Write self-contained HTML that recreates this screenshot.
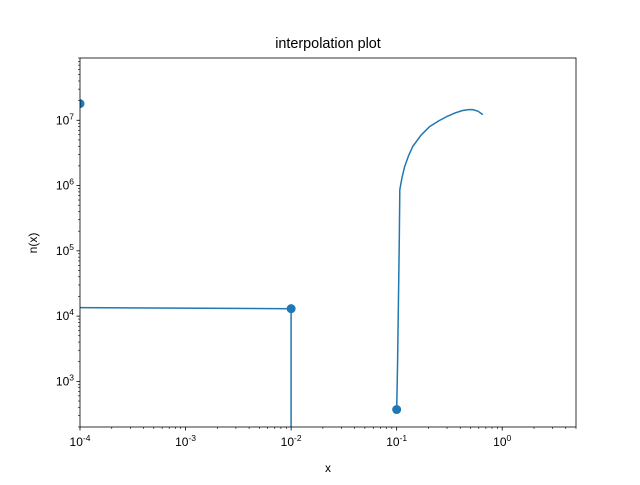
<!DOCTYPE html>
<html><head><meta charset="utf-8"><style>body{margin:0;background:#fff}svg text{font-family:"Liberation Sans","DejaVu Sans",sans-serif;fill:#000}</style></head>
<body>
<svg id="c" width="640" height="480"></svg>
<script>
const lineX=[1e-4,0.01,0.01,null,0.1,0.102,0.104,0.106,0.107,0.112,0.119,0.13,0.142,0.17,0.205,0.25,0.298,0.36,0.422,0.48,0.525,0.59,0.655];
const lineY=[1.35e4,1.3e4,100,null,370,2000,2e4,1.5e5,8.6e5,1.3e6,1.94e6,2.9e6,3.96e6,5.9e6,8.0e6,9.8e6,1.14e7,1.3e7,1.41e7,1.46e7,1.46e7,1.38e7,1.22e7];
const ptX=[1e-4,0.01,0.1];
const ptY=[1.8e7,1.3e4,370];
const xTicks=[-4,-3,-2,-1,0];
const yTicks=[3,4,5,6,7];
const L=80,R=576,T=58,B=427,X0=-4,X1=Math.log10(5),Y0=Math.log10(200),Y1=Math.log10(9e7);
const sx=v=>L+(Math.log10(v)-X0)/(X1-X0)*(R-L);
const sy=v=>B-(Math.log10(v)-Y0)/(Y1-Y0)*(B-T);
const svg=document.getElementById('c');const NS='http://www.w3.org/2000/svg';
function mk(t,a,p){const e=document.createElementNS(NS,t);for(const k in a)e.setAttribute(k,a[k]);(p||svg).appendChild(e);return e;}
const defs=mk('defs',{});const cp=mk('clipPath',{id:'clip'},defs);mk('rect',{x:L,y:T,width:R-L,height:B-T},cp);
let d='',pen=false;
for(let i=0;i<lineX.length;i++){if(lineX[i]===null){pen=false;continue;}d+=(pen?'L':'M')+sx(lineX[i]).toFixed(1)+' '+sy(lineY[i]).toFixed(1);pen=true;}
const ln=mk('path',{d:d,fill:'none',stroke:'#1f77b4','stroke-width':1.5,'stroke-linejoin':'round','clip-path':'url(#clip)'});


for(let i=0;i<ptX.length;i++){const c=mk('circle',{cx:sx(ptX[i]),cy:sy(ptY[i]),r:4.5,fill:'#1f77b4','clip-path':'url(#clip)'});

}
const ax=mk('rect',{x:L,y:T,width:R-L,height:B-T,fill:'none',stroke:'#000','stroke-width':0.8});


for(let e=-4;e<=0;e++){for(let m=1;m<10;m++){const v=m*Math.pow(10,e);const x=sx(v);if(x>R+0.5)break;mk('line',{x1:x,x2:x,y1:B,y2:B+(m==1?3.5:2),stroke:'#000','stroke-width':m==1?0.8:0.6});}}
xTicks.forEach(e=>{const t=mk('text',{x:sx(Math.pow(10,e)),y:B+19,'font-size':12,'text-anchor':'middle'});t.innerHTML='10<tspan dy="-5" font-size="8.5">'+e+'</tspan>';

});
for(let e=2;e<=7;e++){for(let m=1;m<10;m++){const v=m*Math.pow(10,e);const y=sy(v);if(y>B+0.5||y<T-0.5)continue;mk('line',{x1:L,x2:L-(m==1?3.5:2),y1:y,y2:y,stroke:'#000','stroke-width':m==1?0.8:0.6});}}
yTicks.forEach(e=>{const t=mk('text',{x:L-6,y:sy(Math.pow(10,e))+4,'font-size':12,'text-anchor':'end'});t.innerHTML='10<tspan dy="-5" font-size="8.5">'+e+'</tspan>';

});
</script>
<svg style="position:absolute;left:0;top:0" width="640" height="480">
<text x="328" y="48" font-size="14.4" text-anchor="middle">interpolation plot</text>
<text x="328" y="472" font-size="12" text-anchor="middle">x</text>
<text x="37" y="243" font-size="12" text-anchor="middle" transform="rotate(-90 37 243)">n(x)</text>
</svg>
</body></html>
